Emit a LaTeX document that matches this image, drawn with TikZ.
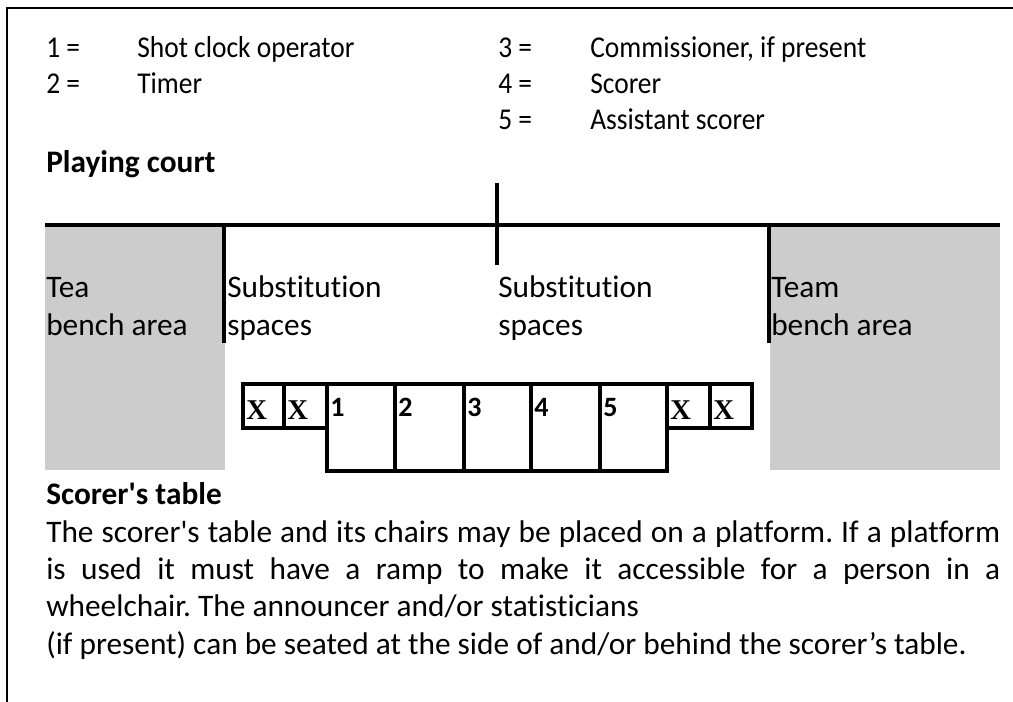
\documentclass[tikz,border=0pt]{standalone}
\usepackage{fontspec}
\setmainfont{Carlito}[Ligatures={NoCommon}]
\newfontfamily\crossfont{Liberation Serif}
\frenchspacing

\begin{document}
\begin{tikzpicture}[x=0.75pt, y=-0.75pt,
                    txt/.style = {anchor=base west, inner sep=0pt, align=left,
                                  font=\fontsize{23.5}{28.5}\selectfont},
                    key/.style = {txt, yscale=1.1, font=\fontsize{20.6}{25.6}\selectfont},
                    head/.style = {txt, font=\fontsize{23.5}{28.5}\selectfont\bfseries},
                    frame/.style = {line width=1.5pt},
                    wall/.style = {line width=3pt},
                    seat/.style = {draw, line width=2.3pt},
                    bench/.style = {fill=black!20}]

  \useasboundingbox (0,0) rectangle (1013,702);

  % outer frame
  \draw[frame] (7,702) -- (7,8) -- (1013,8);

  % legend
  \node[key] (k1) at (46,58)  {1 =};
  \node[key] (v1) at (137,58) {Shot clock operator};
  \node[key] (k2) at (46,94)  {2 =};
  \node[key] (v2) at (137,94) {Timer};
  \node[key] (k3) at (498,58)  {3 =};
  \node[key] (v3) at (590,58)  {Commissioner, if present};
  \node[key] (k4) at (498,94)  {4 =};
  \node[key] (v4) at (590,94)  {Scorer};
  \node[key] (k5) at (498,130) {5 =};
  \node[key] (v5) at (590,130) {Assistant scorer};

  \node[head] (court) at (46,173) {Playing court};

  % bench areas
  \fill[bench] (45,227) rectangle (225,470);
  \fill[bench] (770,227) rectangle (1000,470);

  % court line and marks
  \draw[wall] (45,225) -- (1000,225);
  \draw[wall] (497,183) -- (497,265);
  \draw[wall] (224,225) -- (224,343);
  \draw[wall] (769,225) -- (769,343);

  % multi-line nodes sit on the baseline of their last line
  \node[txt] (benchL) at (46,335)  {Tea\\bench area};
  \node[txt] (subL)   at (227,335) {Substitution\\spaces};
  \node[txt] (subR)   at (498,335) {Substitution\\spaces};
  \node[txt] (benchR) at (771,335) {Team\\bench area};

  % scorer's table
  \foreach \n/\l/\r in {1/327/395, 2/395/464, 3/464/531, 4/531/600, 5/600/667} {
    \draw[seat] (\l,384) rectangle (\r,471);
    \node[txt, font=\fontsize{21}{25.6}\selectfont\bfseries] (t\n) at (\l+3,416) {\n};
  }
  \foreach \i/\l/\r in {a/243/284, b/284/327, c/667/710, d/710/752} {
    \draw[seat] (\l,384) rectangle (\r,428);
    \node[txt, font=\fontsize{21.5}{25.6}\selectfont\crossfont\bfseries] (x\i) at (\l+3,419) {X};
  }

  \node[head] (table) at (46,504) {Scorer\textquotesingle s table};
  \node[txt, font=\fontsize{23.5}{28}\selectfont] (note) at (46,654)
    {\makebox[715.5pt][s]{The scorer\textquotesingle s table and its chairs may be placed on a platform. If a platform}\\
     \makebox[715.5pt][s]{is used it must have a ramp to make it accessible for a person in a}\\
     wheelchair. The announcer and/or statisticians\\
     (if present) can be seated at the side of and/or behind the scorer’s table.};
\end{tikzpicture}
\end{document}
